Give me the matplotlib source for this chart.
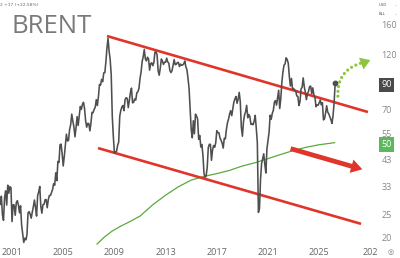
import numpy as np
import matplotlib
matplotlib.use('Agg')
import matplotlib.pyplot as plt
from matplotlib.patches import FancyArrowPatch
from matplotlib.ticker import NullLocator

# monthly Brent closes (USD/bbl), Jan 2000 .. Mar 2026
brent_close = [
    27.6, 29.9, 24.9, 23.6, 29.5, 31.5, 27.4, 33.3, 30.8, 32.8, 32.5, 23.3,   # 2000
    27.5, 27.4, 24.8, 28.1, 28.6, 27.4, 25.4, 27.2, 22.5, 20.6, 19.0, 19.8,   # 2001
    19.5, 20.5, 25.4, 25.7, 25.1, 24.1, 25.6, 27.0, 28.8, 26.8, 24.6, 30.0,   # 2002
    31.2, 32.9, 27.0, 25.3, 27.5, 27.6, 28.9, 28.9, 26.7, 28.9, 30.1, 30.1,   # 2003
    31.0, 31.9, 33.8, 33.3, 37.6, 34.8, 42.0, 41.6, 49.5, 49.8, 45.2, 40.2,   # 2004
    44.2, 49.2, 54.9, 51.3, 51.7, 57.6, 60.3, 66.8, 62.5, 59.0, 53.5, 58.3,   # 2005
    65.2, 59.8, 65.7, 72.0, 70.0, 73.5, 75.0, 70.5, 62.5, 58.8, 61.0, 60.9,   # 2006
    56.7, 61.3, 68.0, 67.8, 70.0, 71.4, 77.0, 72.7, 79.2, 89.4, 88.8, 93.9,   # 2007
    91.8, 100.1, 100.3, 111.4, 127.8, 140.3, 124.1, 114.1, 98.2, 65.3, 53.5, 45.6,  # 2008
    46.1, 46.4, 49.2, 50.8, 65.5, 69.3, 71.7, 72.7, 69.1, 77.0, 78.5, 77.9,   # 2009
    71.2, 76.4, 82.7, 86.2, 74.6, 75.0, 77.5, 76.7, 82.3, 83.2, 85.9, 94.8,   # 2010
    101.0, 111.8, 117.4, 125.9, 114.8, 112.5, 116.7, 114.9, 102.8, 109.6, 110.5, 107.4,  # 2011
    110.9, 122.7, 122.9, 119.5, 101.9, 97.8, 104.9, 114.6, 112.4, 108.7, 111.2, 111.1,   # 2012
    115.6, 111.4, 110.0, 102.4, 100.4, 102.2, 107.7, 114.0, 108.4, 108.8, 110.8, 110.8,  # 2013
    106.4, 109.1, 107.8, 108.1, 109.4, 112.4, 106.0, 103.2, 94.7, 85.9, 70.2, 57.3,      # 2014
    53.0, 62.6, 55.1, 66.8, 65.6, 63.6, 52.2, 54.2, 48.4, 49.6, 44.6, 37.3,   # 2015
    36.0, 36.5, 39.6, 48.1, 49.7, 49.7, 42.5, 47.0, 49.1, 48.3, 50.5, 56.8,   # 2016
    55.7, 55.6, 52.8, 51.7, 50.3, 47.9, 52.7, 52.4, 57.5, 61.4, 63.6, 66.9,   # 2017
    69.1, 65.8, 70.3, 75.2, 77.6, 79.4, 74.3, 77.4, 82.7, 75.5, 58.7, 53.8,   # 2018
    61.9, 66.3, 68.4, 72.8, 64.5, 66.6, 65.2, 60.4, 60.8, 60.2, 62.4, 66.0,   # 2019
    58.2, 50.5, 25.5, 26.5, 35.3, 41.2, 43.3, 45.3, 40.9, 37.5, 47.6, 51.8,   # 2020
    55.9, 66.1, 63.5, 67.3, 69.3, 75.1, 76.3, 73.0, 78.5, 84.4, 70.6, 77.8,   # 2021
    91.2, 101.0, 107.9, 109.3, 116.0, 114.0, 110.0, 96.5, 88.0, 94.8, 85.4, 85.9,  # 2022
    84.5, 83.9, 79.8, 79.5, 72.7, 75.4, 85.6, 86.9, 95.3, 87.4, 82.8, 77.0,   # 2023
    81.7, 83.6, 87.5, 87.9, 81.6, 86.4, 80.7, 78.8, 71.8, 73.2, 72.9, 74.6,   # 2024
    76.8, 73.2, 74.7, 63.1, 63.9, 67.6, 72.5, 68.1, 67.0, 65.1, 63.2, 61.0,   # 2025
    66.0, 75.0, 91.0,                                                         # 2026
]
start_year = 2000

# long moving average (green)
ma_years = [2007.64, 2008.2, 2008.8, 2009.5, 2010.2, 2011.0, 2012.0, 2013.0, 2014.0, 2015.0,
            2016.0, 2017.0, 2018.0, 2019.0, 2020.0, 2021.0, 2022.0, 2023.0, 2024.0, 2025.0, 2026.2]
ma_values = [18.7, 20.0, 21.2, 22.3, 23.3, 24.6, 27.5, 30.2, 32.8, 35.0,
             36.3, 37.3, 38.5, 40.2, 41.5, 43.2, 45.0, 46.8, 48.3, 49.5, 50.5]

# channel lines
upper_line = ([2008.42, 2028.81], [143.6, 68.2])
lower_line = ([2007.72, 2028.27], [47.9, 22.8])

x_ticks = [2001, 2005, 2009, 2013, 2017, 2021, 2025, 2029]
x_labels = ['2001', '2005', '2009', '2013', '2017', '2021', '2025', '202']
y_ticks = [160, 120, 90, 70, 55, 50, 43, 33, 25, 20]

t = start_year + (np.arange(len(brent_close)) + 1) / 12.0

fig = plt.figure(figsize=(4, 2.58), dpi=100)
ax = fig.add_axes([0, 12 / 258, 375 / 400, 246 / 258])
ax.set_yscale('log')

red = '#e0352b'
ax.plot(upper_line[0], upper_line[1], color=red, lw=1.9, solid_capstyle='butt', zorder=3)
ax.plot(lower_line[0], lower_line[1], color=red, lw=1.9, solid_capstyle='butt', zorder=3)
ax.plot(ma_years, ma_values, color='#5aaa3c', lw=0.9, zorder=2)
ax.plot(t, brent_close, color='#4f4f4f', lw=1.15, zorder=4)
ax.plot(t[-1], brent_close[-1], 'o', color='#4f4f4f', ms=3.2, zorder=5)

# bearish arrow
ax.annotate('', xy=(2028.58, 38.6), xytext=(2022.56, 48.0),
            arrowprops=dict(arrowstyle='simple,head_width=1.1,head_length=0.9,tail_width=0.38',
                            color=red, lw=0, mutation_scale=9), zorder=6)

# bullish dotted arrow: dotted curve + solid head
green_arrow = '#8cc63f'
arr = FancyArrowPatch((2026.47, 77.5), (2028.66, 111.4), connectionstyle='arc3,rad=-0.45',
                      arrowstyle='-', color=green_arrow, lw=2.3,
                      linestyle=(0, (0.01, 1.5)), zorder=6)
arr.set_capstyle('round')
ax.add_patch(arr)
ax.annotate('', xy=(2029.2, 114.5), xytext=(2028.55, 111.0),
            arrowprops=dict(arrowstyle='-|>,head_width=0.45,head_length=0.7',
                            color=green_arrow, lw=0, mutation_scale=10), zorder=6)

ax.set_xlim(2000.06, 2029.36)
ax.set_ylim(18.35, 204.4)
for s in ax.spines.values():
    s.set_visible(False)

ax.set_xticks(x_ticks, x_labels)
ax.yaxis.tick_right()
ax.set_yticks(y_ticks, [str(v) for v in y_ticks])
ax.yaxis.set_minor_locator(NullLocator())
ax.tick_params(axis='x', length=0, pad=1.5, labelsize=6.5, labelcolor='#666666')
ax.tick_params(axis='y', length=0, pad=4.5, labelsize=6.5, labelcolor='#888888')
for lab in ax.get_xticklabels():
    lab.set_fontfamily('Open Sans')
for lab in ax.get_yticklabels():
    lab.set_fontfamily('Open Sans')
    if lab.get_text() == '90':
        lab.set_color('white')
        lab.set_bbox(dict(boxstyle='square,pad=0.3', fc='#4a4a4a', ec='none'))
    elif lab.get_text() == '50':
        lab.set_color('white')
        lab.set_bbox(dict(boxstyle='square,pad=0.3', fc='#5cb85c', ec='none'))

fig.text(12 / 400, 1 - 33 / 258, 'BRENT', fontsize=18.5, color='#7a7a7a',
         family='Open Sans', va='baseline')
fig.text(0.0, 1 - 5 / 258, '2 +17 (+22,58%)', fontsize=3.2, color='#666666', va='center')
fig.text(379 / 400, 1 - 5 / 258, 'USD', fontsize=2.8, color='#555555', va='center')
fig.text(379 / 400, 1 - 14 / 258, 'BLL', fontsize=2.8, color='#555555', va='center')
fig.text(395 / 400, 1 - 5 / 258, '-', fontsize=3, color='#555555', va='center')
fig.text(395 / 400, 1 - 14 / 258, '-', fontsize=3, color='#555555', va='center')
fig.text(391 / 400, 1 - 252 / 258, '◎', fontsize=5, color='#777777', va='center', ha='center')

fig.savefig('out.png', dpi=100)
